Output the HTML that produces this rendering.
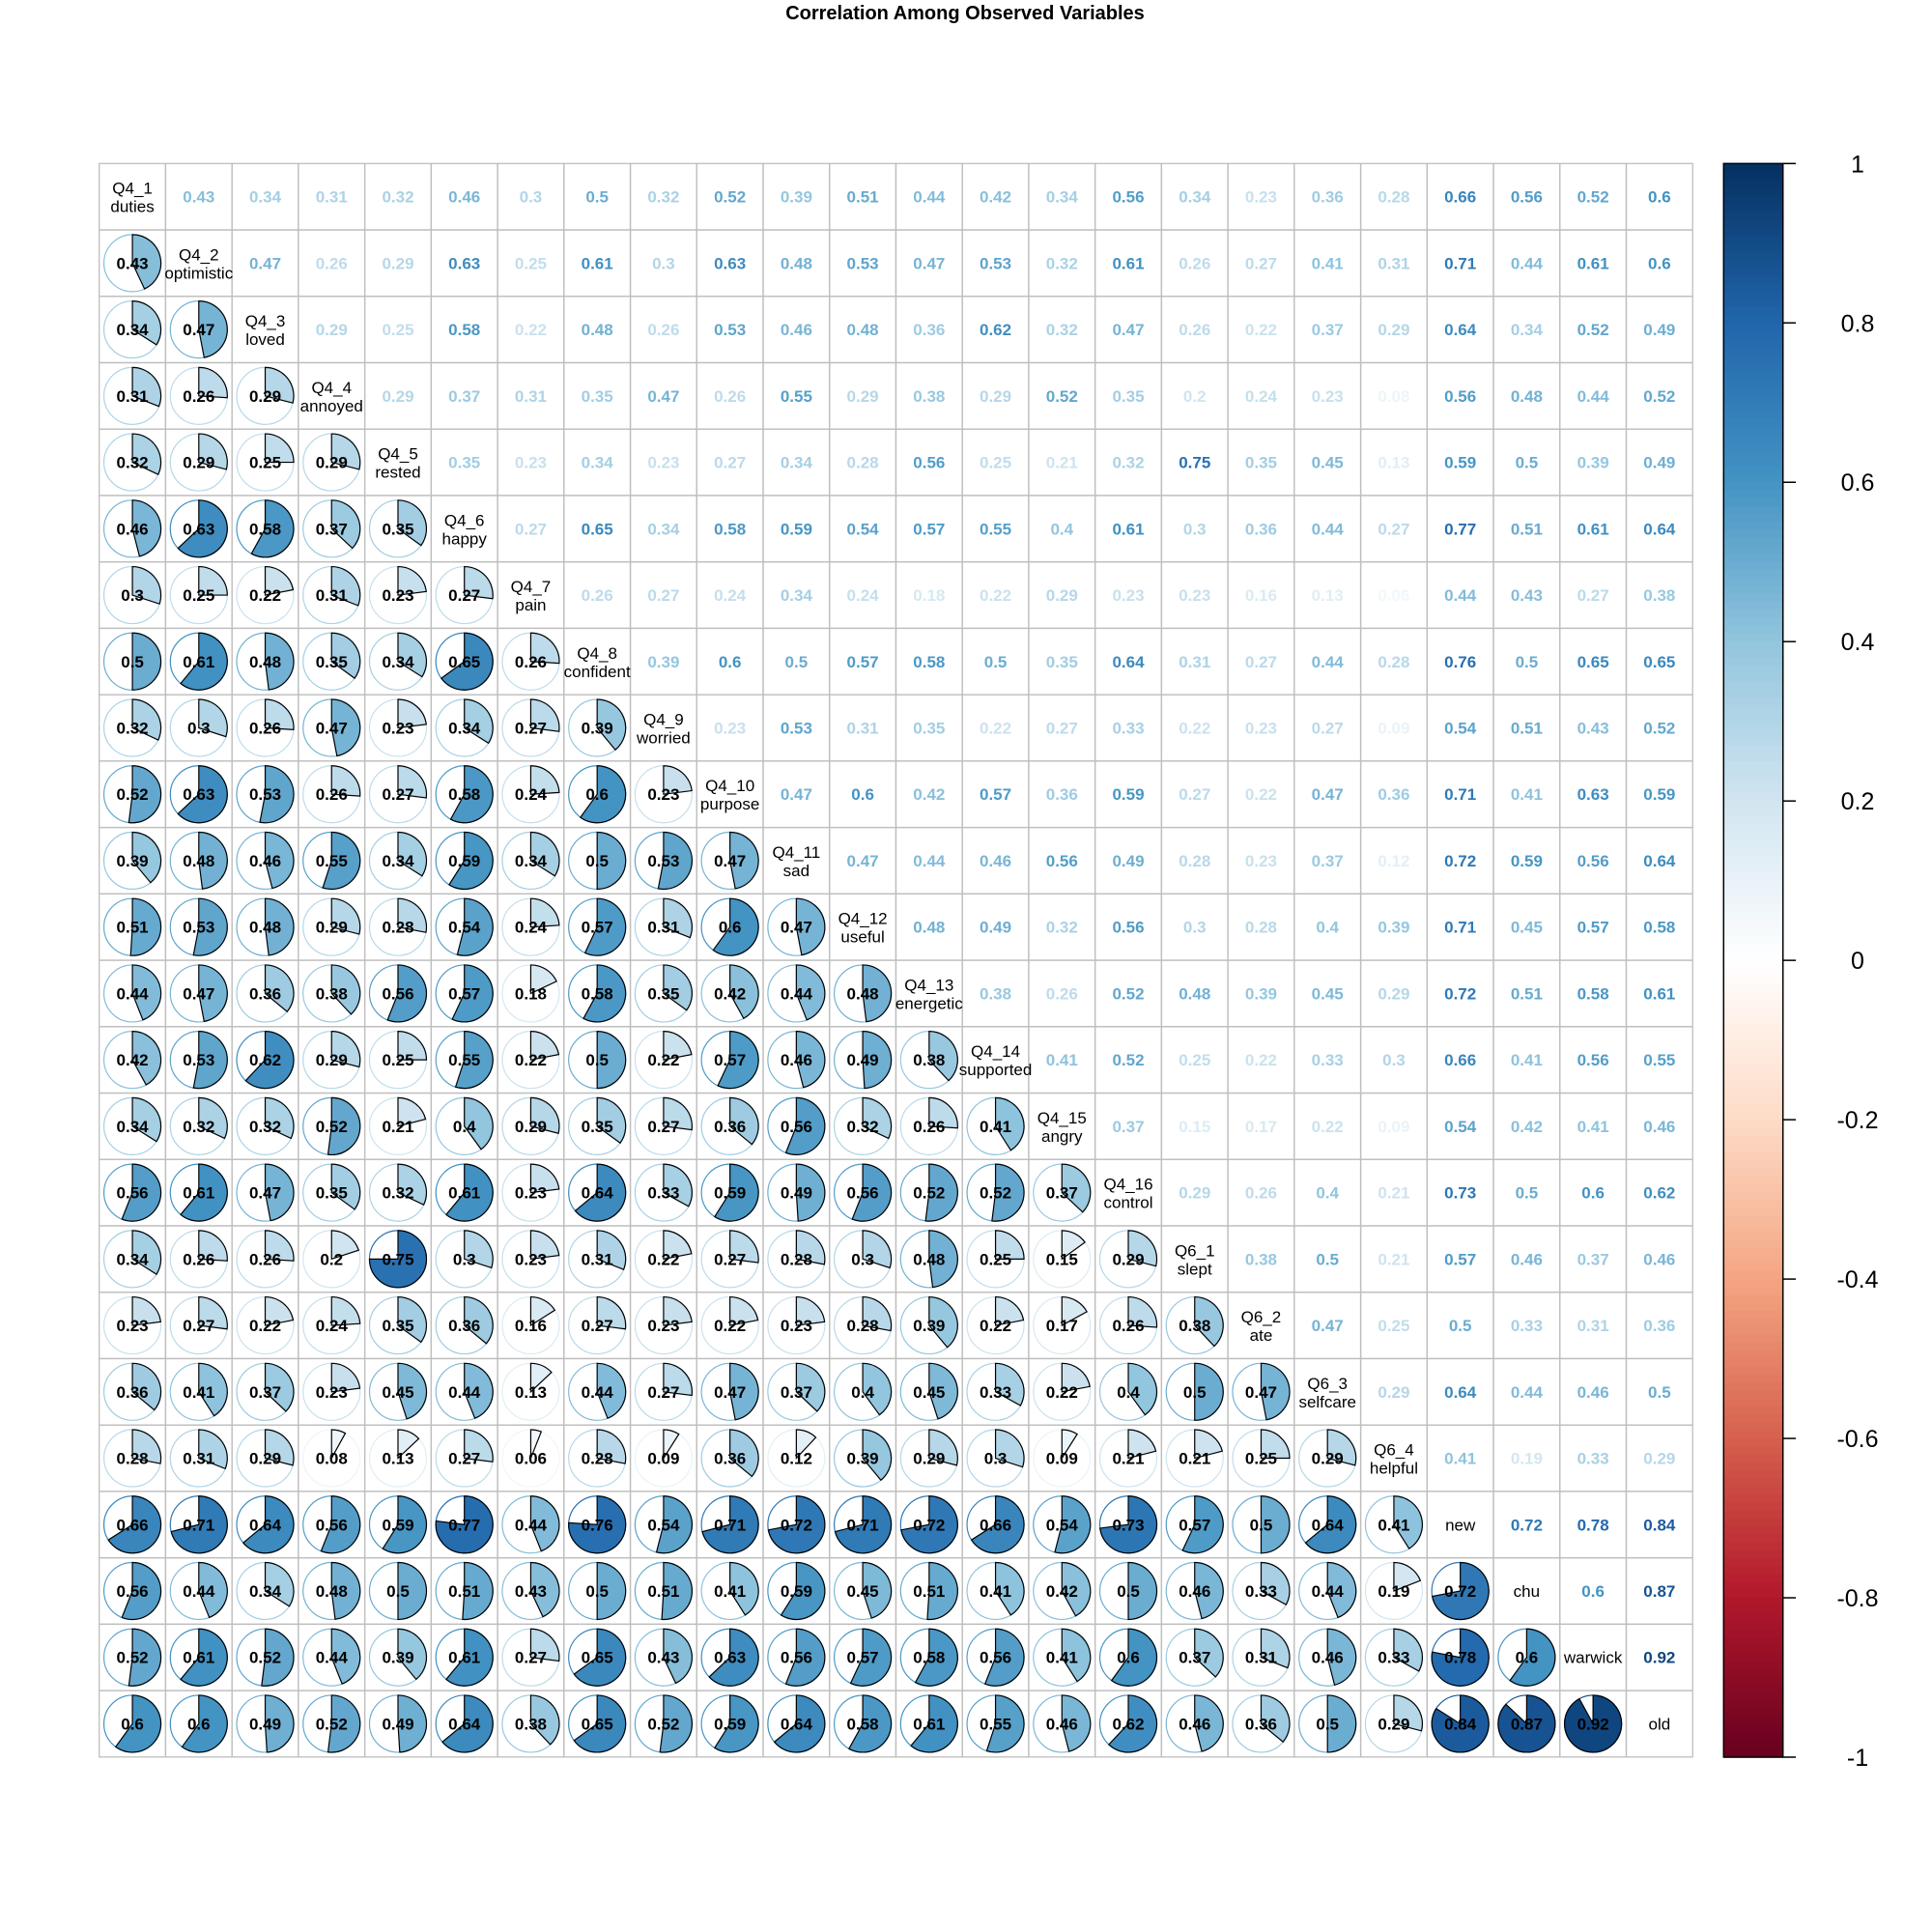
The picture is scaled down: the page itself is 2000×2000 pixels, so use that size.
<!DOCTYPE html>
<html><head><meta charset="utf-8"><style>
html,body{margin:0;padding:0;background:#fff;}
svg{display:block;font-family:"Liberation Sans",Arial,sans-serif;}
</style></head><body>
<svg id="chart" width="2000" height="2000" viewBox="0 0 2000 2000" xmlns="http://www.w3.org/2000/svg">
<rect width="2000" height="2000" fill="#fff"/>
<text x="999" y="20" text-anchor="middle" font-size="20" font-weight="bold">Correlation Among Observed Variables</text>
<g id="grid"></g>
<g id="legend"></g>
</svg>
<script>
const varCodes = ["Q4_1","Q4_2","Q4_3","Q4_4","Q4_5","Q4_6","Q4_7","Q4_8","Q4_9","Q4_10","Q4_11","Q4_12","Q4_13","Q4_14","Q4_15","Q4_16","Q6_1","Q6_2","Q6_3","Q6_4","new","chu","warwick","old"];
const varNames = ["duties","optimistic","loved","annoyed","rested","happy","pain","confident","worried","purpose","sad","useful","energetic","supported","angry","control","slept","ate","selfcare","helpful","","","",""];
const upperRows = [
[0.43,0.34,0.31,0.32,0.46,0.3,0.5,0.32,0.52,0.39,0.51,0.44,0.42,0.34,0.56,0.34,0.23,0.36,0.28,0.66,0.56,0.52,0.6],
[0.47,0.26,0.29,0.63,0.25,0.61,0.3,0.63,0.48,0.53,0.47,0.53,0.32,0.61,0.26,0.27,0.41,0.31,0.71,0.44,0.61,0.6],
[0.29,0.25,0.58,0.22,0.48,0.26,0.53,0.46,0.48,0.36,0.62,0.32,0.47,0.26,0.22,0.37,0.29,0.64,0.34,0.52,0.49],
[0.29,0.37,0.31,0.35,0.47,0.26,0.55,0.29,0.38,0.29,0.52,0.35,0.2,0.24,0.23,0.08,0.56,0.48,0.44,0.52],
[0.35,0.23,0.34,0.23,0.27,0.34,0.28,0.56,0.25,0.21,0.32,0.75,0.35,0.45,0.13,0.59,0.5,0.39,0.49],
[0.27,0.65,0.34,0.58,0.59,0.54,0.57,0.55,0.4,0.61,0.3,0.36,0.44,0.27,0.77,0.51,0.61,0.64],
[0.26,0.27,0.24,0.34,0.24,0.18,0.22,0.29,0.23,0.23,0.16,0.13,0.06,0.44,0.43,0.27,0.38],
[0.39,0.6,0.5,0.57,0.58,0.5,0.35,0.64,0.31,0.27,0.44,0.28,0.76,0.5,0.65,0.65],
[0.23,0.53,0.31,0.35,0.22,0.27,0.33,0.22,0.23,0.27,0.09,0.54,0.51,0.43,0.52],
[0.47,0.6,0.42,0.57,0.36,0.59,0.27,0.22,0.47,0.36,0.71,0.41,0.63,0.59],
[0.47,0.44,0.46,0.56,0.49,0.28,0.23,0.37,0.12,0.72,0.59,0.56,0.64],
[0.48,0.49,0.32,0.56,0.3,0.28,0.4,0.39,0.71,0.45,0.57,0.58],
[0.38,0.26,0.52,0.48,0.39,0.45,0.29,0.72,0.51,0.58,0.61],
[0.41,0.52,0.25,0.22,0.33,0.3,0.66,0.41,0.56,0.55],
[0.37,0.15,0.17,0.22,0.09,0.54,0.42,0.41,0.46],
[0.29,0.26,0.4,0.21,0.73,0.5,0.6,0.62],
[0.38,0.5,0.21,0.57,0.46,0.37,0.46],
[0.47,0.25,0.5,0.33,0.31,0.36],
[0.29,0.64,0.44,0.46,0.5],
[0.41,0.19,0.33,0.29],
[0.72,0.78,0.84],
[0.6,0.87],
[0.92]
];
const legendTicks = [1,0.8,0.6,0.4,0.2,0,-0.2,-0.4,-0.6,-0.8,-1];

const NS="http://www.w3.org/2000/svg";
const X0=102.7, Y0=169.3, CELL=68.73, N=varCodes.length;
const R=29.5;
const pal=["#67001F","#B2182B","#D6604D","#F4A582","#FDDBC7","#FFFFFF","#D1E5F0","#92C5DE","#4393C3","#2166AC","#053061"];
function hex(h){return [parseInt(h.substr(1,2),16),parseInt(h.substr(3,2),16),parseInt(h.substr(5,2),16)];}
function color(v){
  let t=(v+1)/2*(pal.length-1); let i=Math.floor(t); if(i>=pal.length-1)i=pal.length-2; let f=t-i;
  const a=hex(pal[i]),b=hex(pal[i+1]);
  return "rgb("+a.map((c,k)=>Math.round(c+(b[k]-c)*f)).join(",")+")";
}
function corr(i,j){ if(i===j)return 1; const a=Math.min(i,j),b=Math.max(i,j); return upperRows[a][b-a-1]; }
function xc(j){return X0+CELL*(j+0.5);}
function yc(i){return Y0+CELL*(i+0.5);}
function mk(tag,attrs,parent){const e=document.createElementNS(NS,tag);for(const k in attrs)e.setAttribute(k,attrs[k]);parent.appendChild(e);return e;}
const g=document.getElementById("grid");
for(let i=0;i<N;i++){for(let j=0;j<N;j++){
  const r=mk("rect",{x:X0+CELL*j,y:Y0+CELL*i,width:CELL,height:CELL,fill:"none",stroke:"#BEBEBE","stroke-width":1.3},g);
  
  
}}
for(let i=0;i<N;i++){for(let j=0;j<N;j++){
  const cx=xc(j),cy=yc(i);
  if(i===j){
    const t=mk("text",{x:cx,"text-anchor":"middle","font-size":17,fill:"#000"},g);
    
    
    if(varNames[i]){
      mk("tspan",{x:cx,y:cy-3},t).textContent=varCodes[i];
      mk("tspan",{x:cx,y:cy+16},t).textContent=varNames[i];
    } else { t.setAttribute("y",cy+6); t.textContent=varCodes[i]; }
  } else if(j>i){
    const v=corr(i,j);
    const t=mk("text",{x:cx,y:cy+6,"text-anchor":"middle","font-size":17,"font-weight":"bold",fill:color(v)},g);
    
    
    t.textContent=String(v);
  } else {
    const v=corr(i,j); const col=color(v);
    const c=mk("circle",{cx:cx,cy:cy,r:R,fill:"none",stroke:col,"stroke-width":1.2},g);
    
    
    const ang=2*Math.PI*Math.abs(v);
    const ex=cx+R*Math.sin(ang), ey=cy-R*Math.cos(ang);
    const large=Math.abs(v)>0.5?1:0;
    const p=mk("path",{d:`M${cx},${cy} L${cx},${cy-R} A${R},${R} 0 ${large} 1 ${ex},${ey} Z`,fill:col,stroke:"#000","stroke-width":1.2},g);
    
    
    const t=mk("text",{x:cx,y:cy+6,"text-anchor":"middle","font-size":17,"font-weight":"bold",fill:"#000"},g);
    
    
    t.textContent=String(v);
  }
}}
// legend
const L=document.getElementById("legend");
const LX0=1784.3,LX1=1845.7,LY0=169.3,LY1=1819;
function ly(v){return LY0+(1-v)/2*(LY1-LY0);}
const steps=200;
for(let k=0;k<steps;k++){
  const v1=1-2*k/steps, v2=1-2*(k+1)/steps;
  const r=mk("rect",{x:LX0,y:ly(v1),width:LX1-LX0,height:ly(v2)-ly(v1)+0.6,fill:color((v1+v2)/2)},L);
  
  
}
const frame=mk("rect",{x:LX0,y:LY0,width:LX1-LX0,height:LY1-LY0,fill:"none",stroke:"#000","stroke-width":1.5},L);


legendTicks.forEach(v=>{
  const y=ly(v);
  const tk=mk("line",{x1:LX1,x2:1859,y1:y,y2:y,stroke:"#000","stroke-width":1.5},L);
  
  
  const t=mk("text",{x:1923,y:y+9,"text-anchor":"middle","font-size":25,fill:"#000"},L);
  
  
  t.textContent=String(v);
});
</script>
</body></html>
